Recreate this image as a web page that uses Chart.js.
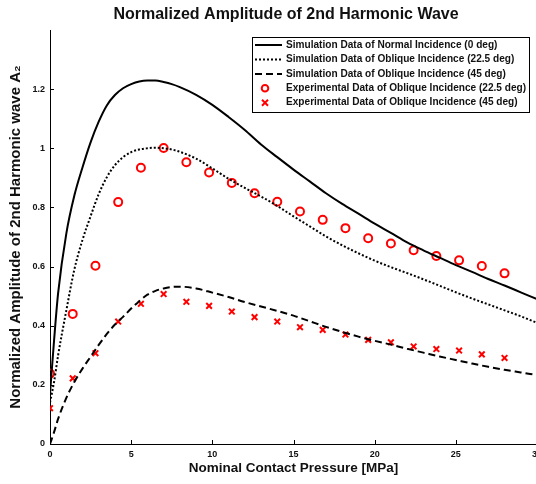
<!DOCTYPE html>
<html>
<head>
<meta charset="utf-8">
<script src="https://cdn.jsdelivr.net/npm/chart.js@4.4.1/dist/chart.umd.min.js"></script>
<style>
html,body{margin:0;padding:0;background:#fff;overflow:hidden;}
#wrap{width:550px;height:484px;position:relative;}
</style>
</head>
<body>
<div id="wrap"><canvas id="c"></canvas></div>
<script>
// ---- data ----
const simX = [0,0.25,0.5,1,1.5,2,2.5,3,3.5,4,4.5,5,5.5,6,6.5,7,7.5,8,9,10,11,12,13,14,15,16,17,18,19,20,21,22,23,24,25,26,27,28,29,30];
const simNormal = [0.17,0.35,0.51,0.71,0.84,0.935,1.02,1.09,1.145,1.18,1.203,1.217,1.226,1.229,1.229,1.224,1.217,1.207,1.181,1.147,1.106,1.062,1.013,0.97,0.928,0.888,0.848,0.812,0.779,0.745,0.714,0.682,0.655,0.630,0.605,0.582,0.558,0.536,0.513,0.49];
const simOblique225 = [0.14,0.21,0.30,0.45,0.59,0.69,0.77,0.845,0.902,0.943,0.97,0.987,0.996,1.0,1.002,1.0,0.996,0.988,0.965,0.932,0.897,0.866,0.837,0.805,0.77,0.736,0.702,0.672,0.645,0.62,0.598,0.578,0.557,0.535,0.513,0.492,0.472,0.452,0.432,0.41];
const simOblique45 = [0.0,0.04,0.085,0.155,0.21,0.255,0.295,0.335,0.372,0.404,0.43,0.458,0.483,0.505,0.518,0.526,0.531,0.532,0.526,0.512,0.497,0.48,0.465,0.45,0.434,0.415,0.396,0.379,0.363,0.349,0.336,0.322,0.309,0.296,0.284,0.272,0.261,0.251,0.242,0.233];
const expX = [0,1.4,2.8,4.2,5.6,7.0,8.4,9.8,11.2,12.6,14.0,15.4,16.8,18.2,19.6,21.0,22.4,23.8,25.2,26.6,28.0];
const exp225 = [0.238,0.440,0.603,0.818,0.934,1.001,0.953,0.918,0.883,0.848,0.819,0.786,0.758,0.730,0.696,0.678,0.655,0.636,0.621,0.602,0.577];
const exp45 = [0.121,0.222,0.307,0.414,0.474,0.507,0.481,0.467,0.448,0.429,0.414,0.395,0.386,0.370,0.352,0.344,0.330,0.321,0.316,0.303,0.291];
const seriesLabels = [
  'Simulation Data of Normal Incidence (0 deg)',
  'Simulation Data of Oblique Incidence (22.5 deg)',
  'Simulation Data of Oblique Incidence (45 deg)',
  'Experimental Data of Oblique Incidence (22.5 deg)',
  'Experimental Data of Oblique Incidence (45 deg)'
];
const chartTitle = 'Normalized Amplitude of 2nd Harmonic Wave';
const xTitle = 'Nominal Contact Pressure [MPa]';
const yTitle = 'Normalized Amplitude of 2nd Harmonic wave A\u2082';

const pts = (xs, ys) => xs.map((x, i) => ({x: x, y: ys[i]}));
const FONT = "'Liberation Sans', Arial, sans-serif";

const lineBase = {showLine:true, pointRadius:0, borderColor:'#000', backgroundColor:'#000', borderWidth:2, cubicInterpolationMode:'monotone', fill:false};
const datasets = [
  Object.assign({label:seriesLabels[0], data:pts(simX, simNormal)}, lineBase),
  Object.assign({label:seriesLabels[1], data:pts(simX, simOblique225), borderDash:[2,2]}, lineBase),
  Object.assign({label:seriesLabels[2], data:pts(simX, simOblique45), borderDash:[7,4]}, lineBase),
  {label:seriesLabels[3], data:pts(expX, exp225), showLine:false, pointStyle:'circle', pointRadius:4, pointBorderWidth:2, pointBorderColor:'#ff0000', pointBackgroundColor:'rgba(0,0,0,0)', borderColor:'#ff0000', backgroundColor:'rgba(0,0,0,0)'},
  {label:seriesLabels[4], data:pts(expX, exp45), showLine:false, pointStyle:'crossRot', pointRadius:4, pointBorderWidth:2, pointBorderColor:'#ff0000', borderColor:'#ff0000', backgroundColor:'#ff0000'}
];

const decor = {
  id:'decor',
  afterDraw(chart){
    const ctx = chart.ctx, xs = chart.scales.x, ys = chart.scales.y, ca = chart.chartArea;
    ctx.save();
    // title
    ctx.fillStyle = '#111'; ctx.font = 'bold 16px ' + FONT; ctx.textAlign = 'center'; ctx.textBaseline = 'middle';
    ctx.fillText(chartTitle, 286, 15);
    // inward ticks
    ctx.strokeStyle = '#000'; ctx.lineWidth = 1;
    xs.ticks.forEach(t => { const px = Math.round(xs.getPixelForValue(t.value)) + 0.5; ctx.beginPath(); ctx.moveTo(px, ca.bottom); ctx.lineTo(px, ca.bottom - 4); ctx.stroke(); });
    ys.ticks.forEach(t => { const py = Math.round(ys.getPixelForValue(t.value)) + 0.5; ctx.beginPath(); ctx.moveTo(ca.left, py); ctx.lineTo(ca.left + 4, py); ctx.stroke(); });
    // legend
    const bx = 252.5, by = 37.5, bw = 277, bh = 75;
    ctx.fillStyle = '#fff'; ctx.fillRect(bx, by, bw, bh);
    ctx.strokeStyle = '#000'; ctx.lineWidth = 1; ctx.strokeRect(bx, by, bw, bh);
    const rowY = [45, 59.5, 74, 88.3, 102.7];
    ctx.font = 'bold 10.1px ' + FONT; ctx.textBaseline = 'middle'; ctx.textAlign = 'left';
    chart.data.datasets.forEach((ds, i) => {
      const y = rowY[i];
      if (ds.showLine) {
        ctx.strokeStyle = '#000'; ctx.lineWidth = 2; ctx.setLineDash(ds.borderDash || []);
        ctx.beginPath(); ctx.moveTo(255, y); ctx.lineTo(282, y); ctx.stroke(); ctx.setLineDash([]);
      } else {
        ctx.strokeStyle = '#ff0000'; ctx.lineWidth = 2;
        ctx.beginPath();
        if (ds.pointStyle === 'circle') { ctx.arc(265, y, 3.3, 0, Math.PI*2); }
        else { ctx.moveTo(262, y-3); ctx.lineTo(268, y+3); ctx.moveTo(268, y-3); ctx.lineTo(262, y+3); }
        ctx.stroke();
      }
      ctx.fillStyle = '#111';
      ctx.fillText(ds.label, 286, y);
    });
    ctx.restore();
  }
};

new Chart(document.getElementById('c'), {
  type:'scatter',
  data:{datasets:datasets},
  options:{
    responsive:true, maintainAspectRatio:false, animation:false,
    layout:{padding:{left:0, right:13, top:30, bottom:0}},
    plugins:{
      legend:{display:false}, tooltip:{enabled:false}, title:{display:false}
    },
    scales:{
      x:{type:'linear', min:0, max:30, ticks:{stepSize:5, color:'#111', font:{family:FONT, size:9, weight:'bold'}, padding:5, maxRotation:0},
         grid:{display:false, drawTicks:false}, border:{display:true, color:'#000', width:1},
         title:{display:true, text:xTitle, color:'#111', font:{family:FONT, size:13.5, weight:'bold'}, padding:{top:2, bottom:8}},
         afterFit(s){ s.height = 40; }},
      y:{type:'linear', min:0, max:1.4, ticks:{stepSize:0.2, color:'#111', font:{family:FONT, size:9, weight:'bold'}, padding:5,
           callback:(v) => String(Math.round(v * 10) / 10)},
         afterBuildTicks(s){ s.ticks = s.ticks.filter(t => t.value <= 1.2 + 1e-9); },
         grid:{display:false, drawTicks:false}, border:{display:true, color:'#000', width:1},
         title:{display:true, text:yTitle, color:'#111', font:{family:FONT, size:15, weight:'bold'}, padding:{top:7, bottom:4}},
         afterFit(s){ s.width = 50; }}
    }
  },
  plugins:[decor]
});
</script>
</body>
</html>
